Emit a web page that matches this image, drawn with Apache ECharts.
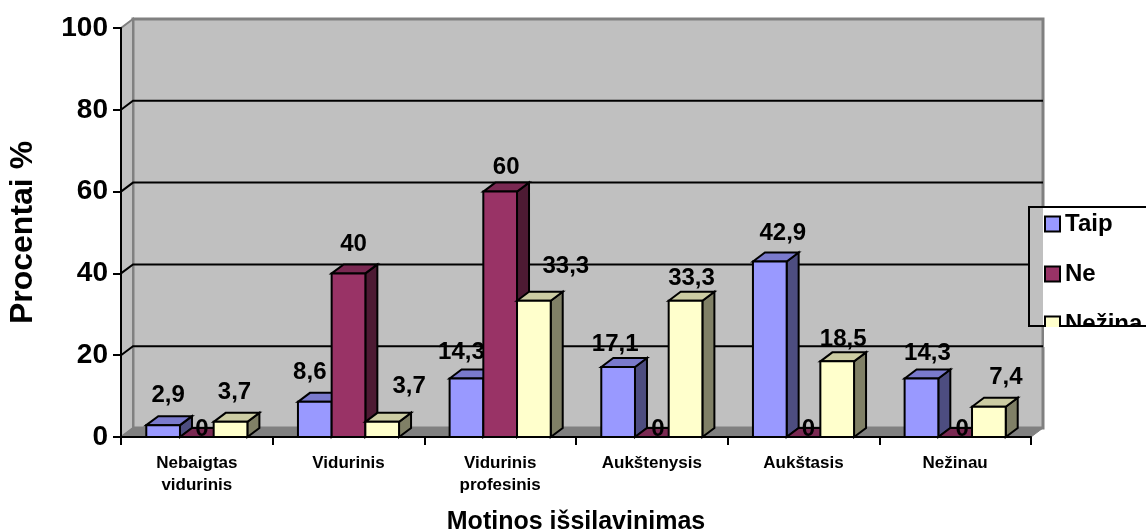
<!DOCTYPE html>
<html>
<head>
<meta charset="utf-8">
<style>
  html, body { margin: 0; padding: 0; background: #fff; }
  #chart { width: 1146px; height: 531px; }
</style>
<script src="https://cdn.jsdelivr.net/npm/echarts@6/dist/echarts.min.js"></script>
</head>
<body>
<div id="chart"></div>
<script>
const categories = ["Nebaigtas\nvidurinis", "Vidurinis", "Vidurinis\nprofesinis", "Aukštenysis", "Aukštasis", "Nežinau"];
const seriesNames = ["Taip", "Ne", "Nežina"];
const taip = [2.9, 8.6, 14.3, 17.1, 42.9, 14.3];
const ne = [0, 40, 60, 0, 0, 0];
const nezina = [3.7, 3.7, 33.3, 33.3, 18.5, 7.4];
const yTicks = [0, 20, 40, 60, 80, 100];

const FONT = '"Liberation Sans", Arial, sans-serif';
const DX = 12; // 3d depth
const DY = -9;
const palette = [
  { front: "#9999ff", top: "#7a7acc", side: "#4d4d80" },
  { front: "#993366", top: "#7a2952", side: "#4d1a33" },
  { front: "#ffffcc", top: "#ccccA3", side: "#808066" },
];

// hand placed labels, same as the original, [dx, dy] from the top of the bar
const nudges = [
  [[5, -30], [-5, -29], [-5, -26], [-3, -23], [13, -28], [6, -25]],
  [[5, -8], [5, -29], [6, -24], [6, -8], [5, -8], [7, -8]],
  [[4, -29], [27, -35], [32, -34], [6, -22], [6, -22], [17, -29]],
];

function barItem(seriesIndex) {
  return function (params, api) {
    const cat = api.value(0);
    const base = api.coord([cat, 0]);
    const top = api.coord([cat, api.value(1)]);
    const w = api.size([1, 0])[0] * 0.2222;
    const x0 = base[0] + (seriesIndex - 1.5) * w;
    const x1 = x0 + w;
    const c = palette[seriesIndex];
    const line = { stroke: "#000", lineWidth: 2, lineJoin: "miter" };
    const poly = (points, fill) => ({
      type: "polygon",
      shape: { points },
      style: Object.assign({ fill }, line),
    });
    return {
      type: "group",
      children: [
        poly([[x1, top[1]], [x1 + DX, top[1] + DY], [x1 + DX, base[1] + DY], [x1, base[1]]], c.side),
        poly([[x0, top[1]], [x0 + DX, top[1] + DY], [x1 + DX, top[1] + DY], [x1, top[1]]], c.top),
        poly([[x0, top[1]], [x1, top[1]], [x1, base[1]], [x0, base[1]]], c.front),
      ],
    };
  };
}

function wallItem(params, api) {
  const value = api.value(0);
  const left = api.coord([0, value]);
  const gridRect = params.coordSys;
  const x0 = gridRect.x;
  const x1 = gridRect.x + gridRect.width;
  const y = left[1];
  const children = [];
  if (value === 0) {
    const yTop = gridRect.y;
    children.push({
      type: "polygon",
      shape: { points: [[x0 + DX, yTop + DY], [x1 + DX, yTop + DY], [x1 + DX, y + DY], [x0 + DX, y + DY]] },
      style: { fill: "#c0c0c0", stroke: "#808080", lineWidth: 3 },
    });
    children.push({
      type: "polygon",
      shape: { points: [[x0, yTop], [x0 + DX, yTop + DY], [x0 + DX, y + DY], [x0, y]] },
      style: { fill: "#c0c0c0", stroke: "#808080", lineWidth: 2 },
    });
    children.push({
      type: "polygon",
      shape: { points: [[x0, y], [x0 + DX, y + DY], [x1 + DX, y + DY], [x1, y]] },
      style: { fill: "#808080", stroke: "#808080", lineWidth: 1 },
    });
  } else if (value < 100) {
    children.push({
      type: "polyline",
      shape: { points: [[x0, y], [x0 + DX, y + DY], [x1 + DX, y + DY]] },
      style: { fill: null, stroke: "#000", lineWidth: 2 },
    });
  }
  return { type: "group", children };
}

const seriesValues = [taip, ne, nezina];
const labelRows = [];
seriesValues.forEach((vals, s) => vals.forEach((v, c) => labelRows.push([c, v, s])));

function labelItem(params, api) {
  const cat = api.value(0);
  const s = api.value(2);
  const value = api.value(1);
  const top = api.coord([cat, value]);
  const w = api.size([1, 0])[0] * 0.2222;
  const cx = top[0] + (s - 1) * w;
  const n = nudges[s][cat];
  return {
    type: "text",
    style: {
      text: String(value).replace(".", ","),
      x: cx + n[0],
      y: top[1] + n[1],
      align: "center",
      verticalAlign: "middle",
      fill: "#000",
      font: "bold 24px " + FONT,
    },
  };
}

const chart = echarts.init(document.getElementById("chart"), null, { renderer: "canvas" });

chart.setOption({
  animation: false,
  backgroundColor: "#fff",
  grid: { left: 121, right: 115, top: 28, bottom: 94, outerBoundsMode: "none" },
  legend: {
    data: seriesNames,
    orient: "vertical",
    left: 1044,
    top: 212,
    padding: 0,
    itemWidth: 15,
    itemHeight: 15,
    itemGap: 26,
    icon: "rect",
    selectedMode: false,
    itemStyle: { borderColor: "#000", borderWidth: 2 },
    textStyle: { fontFamily: FONT, fontWeight: "bold", fontSize: 24, color: "#000" },
  },
  xAxis: {
    type: "category",
    data: categories,
    z: 5,
    name: "Motinos išsilavinimas",
    nameLocation: "middle",
    nameGap: 73,
    nameTextStyle: { fontFamily: FONT, fontWeight: "bold", fontSize: 25, color: "#000" },
    axisLine: { lineStyle: { color: "#000", width: 2 } },
    axisTick: { show: true, length: 8, alignWithLabel: false, lineStyle: { color: "#000", width: 2 } },
    axisLabel: { interval: 0, margin: 15, lineHeight: 22, fontFamily: FONT, fontWeight: "bold", fontSize: 17, color: "#000", verticalAlign: "top" },
    splitLine: { show: false },
  },
  yAxis: {
    type: "value",
    min: 0,
    max: 100,
    interval: 20,
    z: 5,
    name: "Procentai %",
    nameLocation: "middle",
    nameGap: 82,
    nameTextStyle: { fontFamily: FONT, fontWeight: "bold", fontSize: 32, color: "#000" },
    axisLine: { show: true, lineStyle: { color: "#000", width: 2 } },
    axisTick: { show: true, length: 8, lineStyle: { color: "#000", width: 2 } },
    axisLabel: { margin: 13, fontFamily: FONT, fontWeight: "bold", fontSize: 28, color: "#000" },
    splitLine: { show: false },
  },
  graphic: {
    elements: [
      // legend frame, it runs off the page and cuts the last entry
      { type: "rect", z: 3, silent: true, shape: { x: 1043, y: 207, width: 120, height: 119 }, style: { fill: "#fff" } },
      { type: "rect", z: 3, silent: true, shape: { x: 1029, y: 207, width: 14, height: 119 }, style: { fill: "#c0c0c0" } },
      { type: "polyline", z: 3, silent: true, shape: { points: [[1160, 207], [1029, 207], [1029, 326], [1160, 326]] }, style: { fill: null, stroke: "#000", lineWidth: 2 } },
      { type: "rect", z: 20, silent: true, shape: { x: 1044, y: 327, width: 102, height: 20 }, style: { fill: "#fff" } },
    ],
  },
  series: [
    {
      type: "custom",
      name: "wall",
      z: 0,
      silent: true,
      clip: false,
      renderItem: wallItem,
      data: yTicks.map((t) => [t]),
      encode: { y: 0 },
    },
    ...seriesNames.map((name, s) => ({
      type: "custom",
      name,
      z: 2,
      silent: true,
      clip: false,
      itemStyle: { color: palette[s].front },
      renderItem: barItem(s),
      data: seriesValues[s].map((v, c) => [c, v]),
      encode: { x: 0, y: 1 },
    })),
    {
      type: "custom",
      name: "labels",
      z: 6,
      silent: true,
      clip: false,
      renderItem: labelItem,
      data: labelRows,
      encode: { x: 0, y: 1 },
    },
  ],
});
</script>
</body>
</html>
